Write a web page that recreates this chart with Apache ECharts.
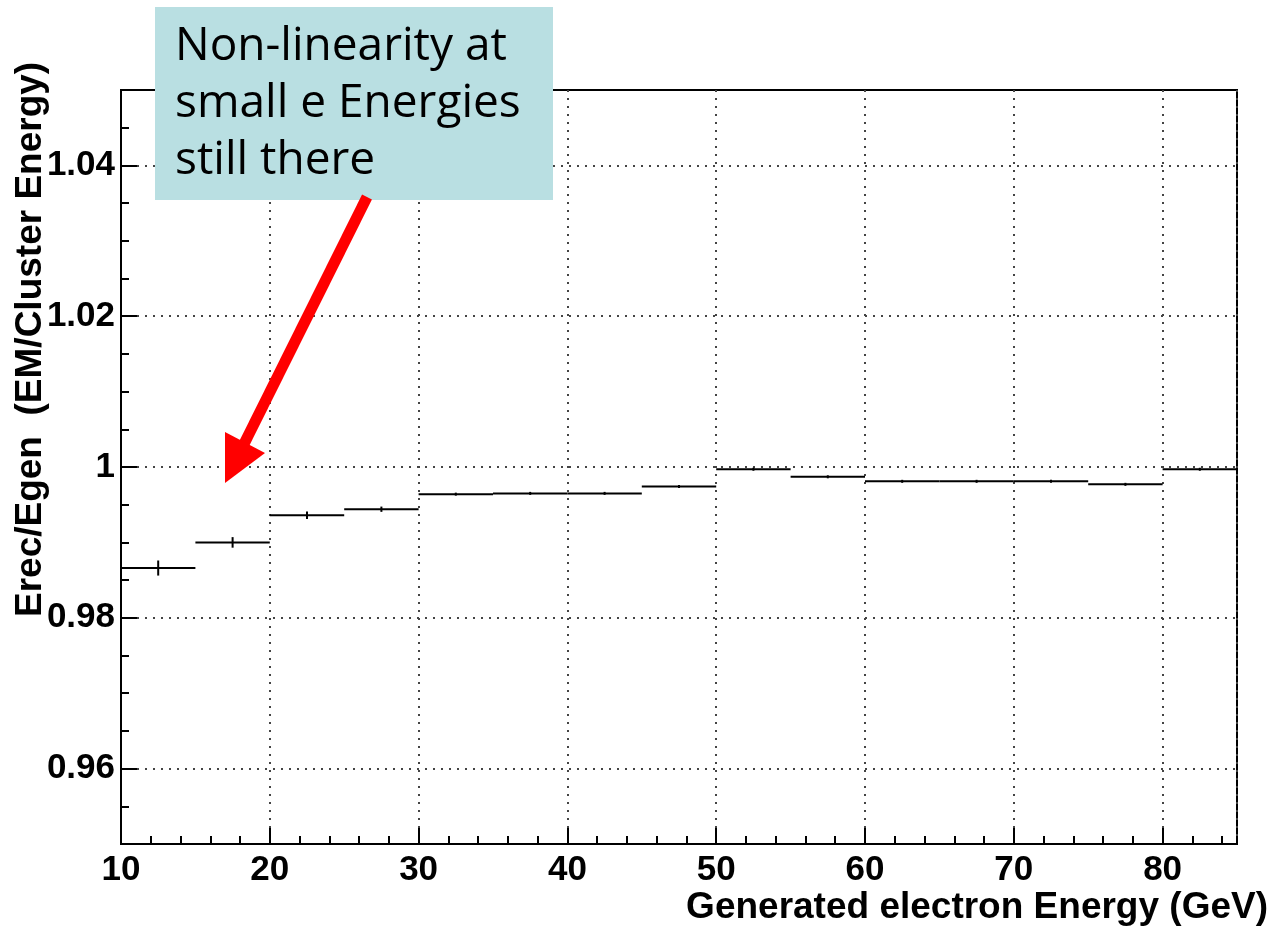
<!DOCTYPE html>
<html>
<head>
<meta charset="utf-8">
<script src="https://cdn.jsdelivr.net/npm/echarts@6/dist/echarts.min.js"></script>
<style>
html,body{margin:0;padding:0;background:#fff;}
#chart{width:1275px;height:929px;}
</style>
</head>
<body>
<div id="chart"></div>
<script>
// ---- data ----
const binLow  = [10, 15, 20, 25, 30, 35, 40, 45, 50, 55, 60, 65, 70, 75, 80];
const binHigh = [15, 20, 25, 30, 35, 40, 45, 50, 55, 60, 65, 70, 75, 80, 85];
const ratio   = [0.9866, 0.9900, 0.9936, 0.9944, 0.9964, 0.9965, 0.9965, 0.9974,
                 0.9997, 0.9987, 0.9981, 0.9981, 0.9981, 0.9977, 0.9997];
const ratioErr = [0.0010, 0.0007, 0.0005, 0.00035, 0.0002, 0.0002, 0.0002, 0.0002,
                  0.0002, 0.0002, 0.0002, 0.0002, 0.0002, 0.0002, 0.0002];
const yMajorTicks = [0.96, 0.98, 1.00, 1.02, 1.04];
const xTitle = 'Generated electron Energy (GeV)';
const yTitle = 'Erec/Egen  (EM/Cluster Energy)';
const noteText = 'Non-linearity at\nsmall e Energies\nstill there';

const seriesData = binLow.map((lo, i) => [lo, binHigh[i], ratio[i], ratioErr[i]]);

const chart = echarts.init(document.getElementById('chart'), null, {renderer: 'canvas'});
const labelFont = {fontFamily: '"Liberation Sans", Arial, sans-serif', fontWeight: 'bold', fontSize: 35, color: '#000'};
const gridLine = {show: true, lineStyle: {color: '#444', width: 2, type: [2, 6]}};

const option = {
  animation: false,
  backgroundColor: '#fff',
  grid: {left: 121, right: 38, top: 90, bottom: 85, show: true, borderColor: '#000', borderWidth: 2, backgroundColor: 'transparent'},
  xAxis: [
    {type: 'value', min: 10, max: 85, interval: 2, position: 'bottom',
     axisLine: {show: true, lineStyle: {color: '#000', width: 2}},
     axisTick: {show: true, inside: true, length: 8, lineStyle: {color: '#000', width: 2}},
     axisLabel: {show: false}, splitLine: {show: false}},
    {type: 'value', min: 10, max: 85, interval: 10, position: 'bottom',
     axisLine: {show: false},
     axisTick: {show: true, inside: true, length: 16, lineStyle: {color: '#000', width: 2}},
     axisLabel: Object.assign({show: true, margin: 9, showMaxLabel: false}, labelFont),
     splitLine: gridLine}
  ],
  yAxis: [
    {type: 'value', min: 0.95, max: 1.05, interval: 0.005, position: 'left',
     axisLine: {show: true, lineStyle: {color: '#000', width: 2}},
     axisTick: {show: true, inside: true, length: 8, lineStyle: {color: '#000', width: 2}},
     axisLabel: {show: false}, splitLine: {show: false}},
    {type: 'value', min: 0.95, max: 1.05, position: 'left',
     axisLine: {show: false},
     axisTick: {show: true, inside: true, length: 16, customValues: yMajorTicks, lineStyle: {color: '#000', width: 2}},
     axisLabel: Object.assign({show: true, margin: 6, customValues: yMajorTicks,
       formatter: v => String(parseFloat(v.toFixed(4)))}, labelFont),
     splitLine: gridLine}
  ],
  series: [{
    type: 'custom',
    xAxisIndex: 0, yAxisIndex: 0,
    data: seriesData,
    encode: {x: [0, 1], y: 2},
    renderItem: function (params, api) {
      const lo = api.value(0), hi = api.value(1), y = api.value(2), e = api.value(3);
      const a = api.coord([lo, y]), b = api.coord([hi, y]);
      const c = (lo + hi) / 2;
      const t = api.coord([c, y + e]), d = api.coord([c, y - e]);
      const st = {stroke: '#000', lineWidth: 2};
      return {type: 'group', children: [
        {type: 'line', shape: {x1: a[0], y1: a[1], x2: b[0], y2: b[1]}, style: st},
        {type: 'line', shape: {x1: t[0], y1: t[1], x2: d[0], y2: d[1]}, style: st}
      ]};
    }
  }],
  graphic: [
    {type: 'text', x: 1268, y: 908, z: 50,
     style: {text: xTitle, font: 'bold 37px "Liberation Sans", Arial, sans-serif', fill: '#000', textAlign: 'right', textVerticalAlign: 'middle'}},
    {type: 'text', x: 31, y: 617, rotation: Math.PI / 2, z: 50,
     style: {text: yTitle, font: 'bold 37px "Liberation Sans", Arial, sans-serif', fill: '#000', textAlign: 'left', textVerticalAlign: 'middle'}},
    {type: 'rect', x: 155, y: 7, z: 100, shape: {width: 398, height: 193}, style: {fill: '#b9dfe2'}},
    {type: 'text', x: 175, y: 18, z: 101,
     style: {text: noteText, font: '46px "Open Sans", sans-serif', fill: '#000', lineHeight: 57, textAlign: 'left', textVerticalAlign: 'top'}},
    {type: 'line', z: 100, shape: {x1: 367, y1: 197, x2: 243, y2: 446}, style: {stroke: '#ff0000', lineWidth: 11}},
    {type: 'polygon', z: 100, shape: {points: [[225, 432], [265, 453], [225, 483]]}, style: {fill: '#ff0000'}}
  ]
};
chart.setOption(option);
</script>
</body>
</html>
